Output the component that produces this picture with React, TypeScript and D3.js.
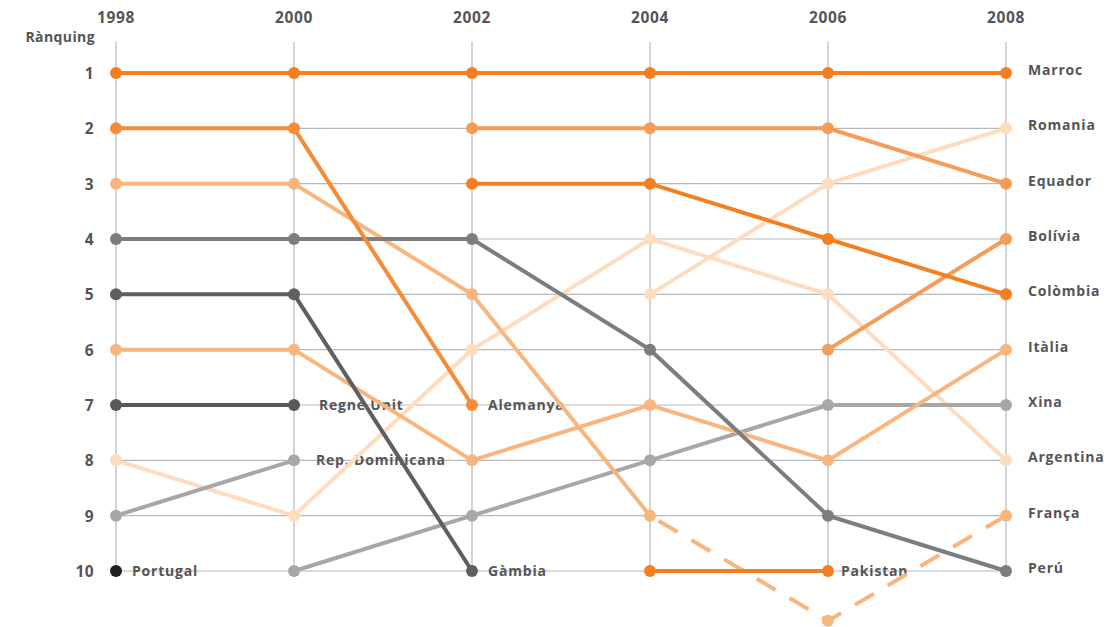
import React from "react";
import * as d3 from "d3";

const years = [1998, 2000, 2002, 2004, 2006, 2008];
const ranks = [1, 2, 3, 4, 5, 6, 7, 8, 9, 10];

const seriesNames = [
  "Argentina", "Romania", "Xina", "Rep. Dominicana", "Itàlia", "França",
  "Equador", "Bolívia", "Perú", "Gàmbia", "Regne Unit", "Alemanya",
  "Colòmbia", "Marroc", "Pakistan", "Portugal",
];

const argentina = [8, 9, 6, 4, 5, 8];
const romania = [null, null, null, 5, 3, 2];
const xina = [null, 10, 9, 8, 7, 7];
const repDominicana = [9, 8, null, null, null, null];
const italia = [6, 6, 8, 7, 8, 6];
const franca = [3, 3, 5, 9, 10.9, 9];
const equador = [null, null, 2, 2, 2, 3];
const bolivia = [null, null, null, null, 6, 4];
const peru = [4, 4, 4, 6, 9, 10];
const gambia = [5, 5, 10, null, null, null];
const regneUnit = [7, 7, null, null, null, null];
const alemanya = [2, 2, 7, null, null, null];
const colombia = [null, null, 3, 3, 4, 5];
const marroc = [1, 1, 1, 1, 1, 1];
const pakistan = [null, null, null, 10, 10, null];
const portugal = [10, null, null, null, null, null];

const seriesValues = [
  argentina, romania, xina, repDominicana, italia, franca,
  equador, bolivia, peru, gambia, regneUnit, alemanya,
  colombia, marroc, pakistan, portugal,
];

const seriesColors = [
  "#fddcc0", "#fddcc0", "#a7a7aa", "#a7a7aa", "#f9b57e", "#f9b57e",
  "#f59c58", "#f59c58", "#7d7d80", "#5f5f62", "#58585a", "#f68b38",
  "#f47f20", "#f47f20", "#f47f20", "#231f20",
];

// França goes out of the top 10 in 2006: drawn dashed from 2004
const dashedSeries = "França";
const dashedFromYear = 2004;

// Labels at the right (final ranking 2008)
const rightLabels = ["Marroc", "Romania", "Equador", "Bolívia", "Colòmbia", "Itàlia", "Xina", "Argentina", "França", "Perú"];

// Inline labels: series that end before 2008
const inlineLabels = ["Regne Unit", "Rep. Dominicana", "Alemanya", "Gàmbia", "Portugal", "Pakistan"];
const inlineLabelDx: Record<string, number> = {
  "Regne Unit": 25,
  "Rep. Dominicana": 22,
  Alemanya: 16,
  "Gàmbia": 16,
  Portugal: 16,
  Pakistan: 13,
};

const W = 1109;
const H = 627;
const FONT = "'Open Sans', 'DejaVu Sans', sans-serif";
const TEXT = "#555557";

export default function App() {
  const x = d3.scalePoint<number>().domain(years).range([116, 1006]);
  const y = d3.scaleLinear().domain([1, 10]).range([73, 571]);

  const line = d3
    .line<[number, number | null]>()
    .defined((d) => d[1] != null)
    .x((d) => x(d[0]) as number)
    .y((d) => y(d[1] as number));

  return (
    <svg width={W} height={H} style={{ position: "absolute", left: 0, top: 0, background: "#fff" }}>
      {/* vertical grid */}
      {years.map((yr) => (
        <line key={"v" + yr} x1={x(yr)} x2={x(yr)} y1={42} y2={y(10)} stroke="#c4c4c6" strokeWidth={1.5} />
      ))}
      {/* horizontal grid */}
      {ranks.map((r) => (
        <line key={"h" + r} x1={x(1998)} x2={x(2008)} y1={y(r)} y2={y(r)} stroke="#b8b8ba" strokeWidth={1.2} />
      ))}
      {/* year labels */}
      {years.map((yr) => (
        <text key={"y" + yr} x={x(yr)} y={23} textAnchor="middle" fontFamily={FONT} fontWeight={700} fontSize={15.5} fill={TEXT} letterSpacing={0.6}>
          {yr}
        </text>
      ))}
      <text x={95} y={42} textAnchor="end" fontFamily={FONT} fontWeight={700} fontSize={14} fill={TEXT} letterSpacing={0.4}>
        Rànquing
      </text>
      {ranks.map((r) => (
        <text key={"r" + r} x={94} y={y(r) + 6} textAnchor="end" fontFamily={FONT} fontWeight={700} fontSize={15.5} fill={TEXT} letterSpacing={0.4}>
          {r}
        </text>
      ))}
      {/* inline labels */}
      {inlineLabels.map((name) => {
        const i = seriesNames.indexOf(name);
        const vals = seriesValues[i];
        let last = 0;
        vals.forEach((v, k) => {
          if (v != null) last = k;
        });
        return (
          <text key={"il" + name} x={(x(years[last]) as number) + inlineLabelDx[name]} y={y(vals[last] as number) + 5} fontFamily={FONT} fontWeight={700} fontSize={14} fill={TEXT} letterSpacing={0.8}>
            {name}
          </text>
        );
      })}
      {/* right labels */}
      {rightLabels.map((name, k) => (
        <text key={"rl" + name} x={1028} y={y(k + 1) + 2} fontFamily={FONT} fontWeight={700} fontSize={14} fill={TEXT} letterSpacing={0.8}>
          {name}
        </text>
      ))}
      {/* lines */}
      {seriesNames.map((name, i) => {
        const vals = seriesValues[i];
        const pts: [number, number | null][] = years.map((yr, k) => [yr, vals[k]]);
        if (name === dashedSeries) {
          const cut = years.indexOf(dashedFromYear);
          const solid = pts.map((p, k) => (k <= cut ? p : [p[0], null])) as [number, number | null][];
          const dashed = pts.map((p, k) => (k >= cut ? p : [p[0], null])) as [number, number | null][];
          return (
            <g key={"l" + name}>
              <path d={line(solid) || ""} fill="none" stroke={seriesColors[i]} strokeWidth={4} />
              <path d={line(dashed) || ""} fill="none" stroke={seriesColors[i]} strokeWidth={4} strokeDasharray="22 16" strokeDashoffset={-10} />
            </g>
          );
        }
        return <path key={"l" + name} d={line(pts) || ""} fill="none" stroke={seriesColors[i]} strokeWidth={4} />;
      })}
      {/* dots */}
      {seriesNames.map((name, i) =>
        seriesValues[i].map((v, k) =>
          v == null ? null : (
            <circle key={"c" + name + k} cx={x(years[k])} cy={y(v)} r={6} fill={seriesColors[i]} />
          )
        )
      )}
    </svg>
  );
}
